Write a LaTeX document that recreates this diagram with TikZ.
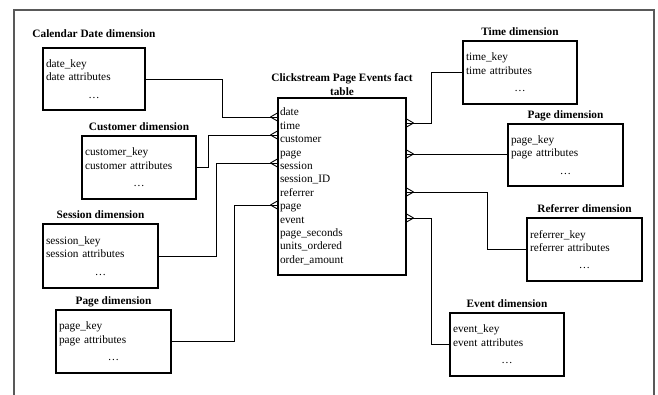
\documentclass[tikz,border=0pt]{standalone}
\usepackage{fontspec}
\setmainfont{Liberation Serif}
\usetikzlibrary{calc}
\newcommand\dimlines[2]{\raggedright #1\\#2\par\vspace{4pt}{\centering\dots\par}}
\begin{document}
\begin{tikzpicture}[x=1pt,y=-1pt,
  every node/.style={font=\fontsize{11.3}{13.4}\selectfont},
  dim/.style={draw, line width=1.1pt, inner xsep=3pt, inner ysep=0pt},
  fact/.style={draw, line width=1.1pt, inner xsep=2pt, inner ysep=0pt, align=left},
  ttl/.style={font=\fontsize{11.3}{13.4}\selectfont\bfseries, anchor=base, inner sep=0pt},
  conn/.style={line width=0.9pt},
  frame/.style={line width=1.3pt, draw=black!65},
  crowL/.pic={\draw[conn] (-7,0) -- (0,-4) (-7,0) -- (0,4);},
  crowR/.pic={\draw[conn] (7,0) -- (0,-4) (7,0) -- (0,4);}
]
\clip (0,0) rectangle (658,394);
\draw[frame] (14,10) rectangle (654,430);

% dimension boxes
\node[dim, minimum width=102, minimum height=62, text width=96] (cal) at (94,79) {\dimlines{date\_key}{date attributes}};
\node[dim, minimum width=114, minimum height=63, text width=108] (cust) at (139,167.5) {\dimlines{customer\_key}{customer attributes}};
\node[dim, minimum width=115, minimum height=64, text width=109] (sess) at (100.5,256) {\dimlines{session\_key}{session attributes}};
\node[dim, minimum width=115, minimum height=63, text width=109] (pagel) at (113.5,341.5) {\dimlines{page\_key}{page attributes}};
\node[dim, minimum width=114, minimum height=63, text width=108] (time) at (520,72.5) {\dimlines{time\_key}{time attributes}};
\node[dim, minimum width=115, minimum height=62, text width=109] (pager) at (565.5,155) {\dimlines{page\_key}{page attributes}};
\node[dim, minimum width=115, minimum height=63, text width=109] (refr) at (584.5,249.5) {\dimlines{referrer\_key}{referrer attributes}};
\node[dim, minimum width=114, minimum height=63, text width=108] (evt) at (507,344.5) {\dimlines{event\_key}{event attributes}};

% titles
\node[ttl] (calT) at ($(cal.north)+(0,-10)$) {Calendar Date dimension};
\node[ttl] (custT) at ($(cust.north)+(0,-5)$) {Customer dimension};
\node[ttl] (sessT) at ($(sess.north)+(0,-5)$) {Session dimension};
\node[ttl] (pagelT) at ($(pagel.north)+(0,-5)$) {Page dimension};
\node[ttl] (timeT) at ($(time.north)+(0,-5)$) {Time dimension};
\node[ttl] (pagerT) at ($(pager.north)+(0,-5)$) {Page dimension};
\node[ttl] (refrT) at ($(refr.north)+(0,-5)$) {Referrer dimension};
\node[ttl] (evtT) at ($(evt.north)+(0,-5)$) {Event dimension};

% fact table
\node[fact, minimum width=128, minimum height=177, text width=124] (fact) at (342,186.5)
  {date\\time\\customer\\page\\session\\session\_ID\\referrer\\page\\event\\page\_seconds\\units\_ordered\\order\_amount};
\node[font=\fontsize{11.3}{13.4}\selectfont\bfseries, align=center, anchor=south, inner sep=0pt] (factT)
  at ($(fact.north)+(0,-2)$) {Clickstream Page Events fact\\table};

% attachment points on the fact table
\coordinate (fdate) at (fact.west |- 0,117);
\coordinate (fcust) at (fact.west |- 0,135);
\coordinate (fsess) at (fact.west |- 0,163);
\coordinate (fpage) at (fact.west |- 0,205);
\coordinate (ftime) at (fact.east |- 0,123);
\coordinate (fpg) at (fact.east |- 0,154);
\coordinate (fref) at (fact.east |- 0,192);
\coordinate (fevt) at (fact.east |- 0,218);

% connectors
\draw[conn] (cal.east) -- ++(77,0) |- (fdate);
\draw[conn] (cust.east) -- ++(12,0) |- (fcust);
\draw[conn] (sess.east) -- ++(58,0) |- (fsess);
\draw[conn] (pagel.east) -- ++(63,0) |- (fpage);
\draw[conn] (time.west) -- ++(-31,0) |- (ftime);
\draw[conn] (fpg) -- (fpg -| pager.west);
\draw[conn] (refr.west) -- ++(-39,0) |- (fref);
\draw[conn] (evt.west) -- ++(-18,0) |- (fevt);

% crow's feet
\foreach \c in {fdate,fcust,fsess,fpage} \pic at (\c) {crowL};
\foreach \c in {ftime,fpg,fref,fevt} \pic at (\c) {crowR};
\end{tikzpicture}
\end{document}
